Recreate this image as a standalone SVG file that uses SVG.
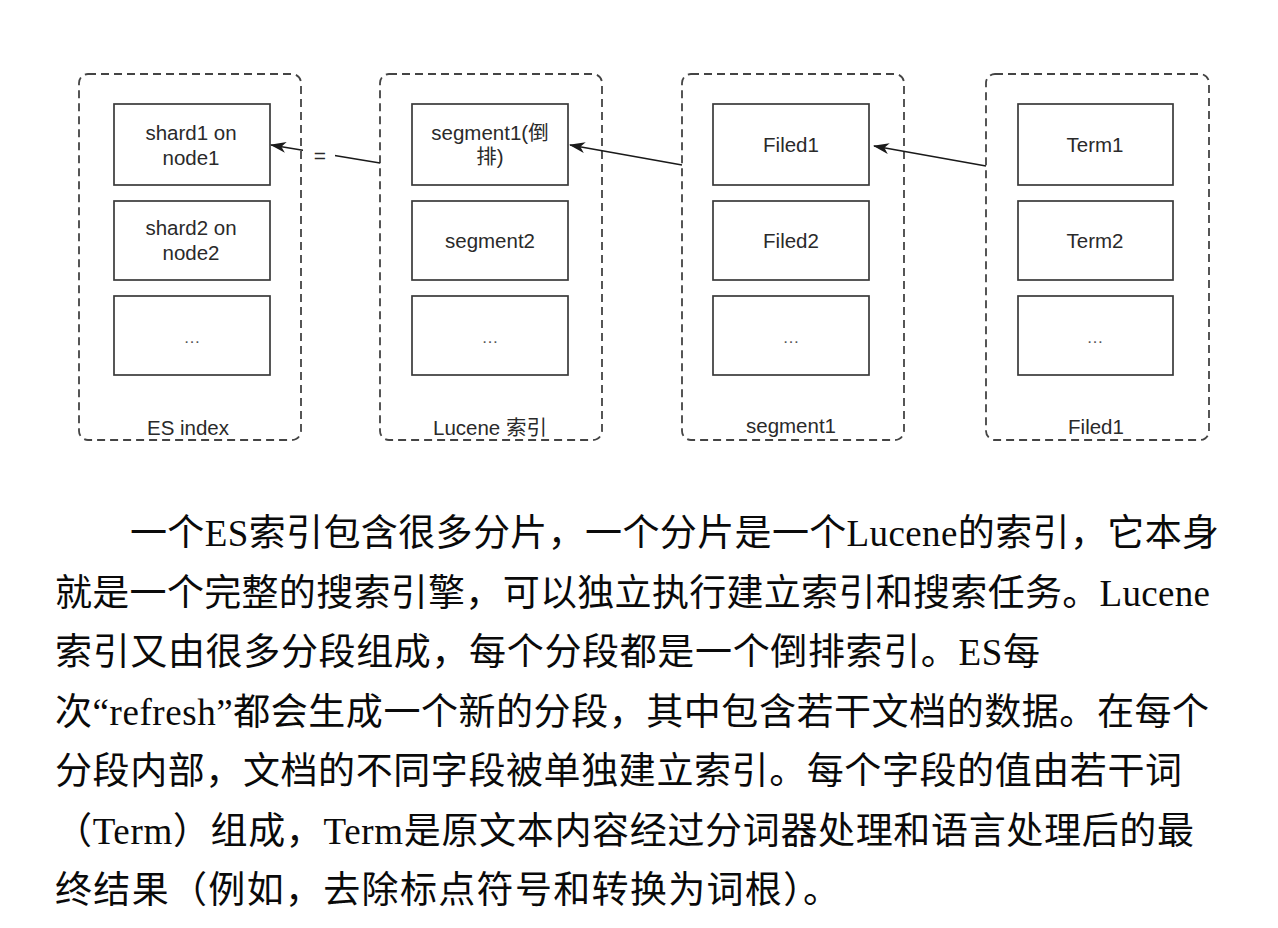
<svg xmlns="http://www.w3.org/2000/svg" width="1278" height="928" viewBox="0 0 1278 928">
<style>
.cont{fill:none;stroke:#444;stroke-width:1.8;stroke-dasharray:8 5}
.box{fill:#fff;stroke:#3a3a3a;stroke-width:1.7}
.lbl{font-family:"Liberation Sans",Arial,"Noto Sans CJK SC",sans-serif;font-size:20.5px;fill:#2a2a2a;text-anchor:middle}
.dots{font-family:"Liberation Sans",Arial,sans-serif;font-size:17px;fill:#555;text-anchor:middle}
.conn{fill:none;stroke:#1a1a1a;stroke-width:1.7}
.para{font-family:"Liberation Serif","Noto Sans CJK SC",serif;font-size:37px;fill:#0a0a0a}
</style>
<defs>
<marker id="arr" viewBox="0 0 16 12" refX="15" refY="6" markerWidth="16" markerHeight="12" markerUnits="userSpaceOnUse" orient="auto">
<path d="M0,0.5 L16,6 L0,11.5 L4.5,6 Z" fill="#1a1a1a"/>
</marker>
</defs>
<rect width="1278" height="928" fill="#fff"/>

<g id="es-index">
<rect class="cont" x="79" y="74" width="222" height="366" rx="9"/>
<text class="lbl" x="188" y="435">ES index</text>
</g>
<g id="shard1">
<rect class="box" x="114" y="104" width="156" height="81"/>
<text class="lbl" x="191" y="140">shard1 on</text>
<text class="lbl" x="191" y="165">node1</text>
</g>
<g id="shard2">
<rect class="box" x="114" y="201" width="156" height="79"/>
<text class="lbl" x="191" y="235">shard2 on</text>
<text class="lbl" x="191" y="260">node2</text>
</g>
<g id="shard-more">
<rect class="box" x="114" y="296" width="156" height="79"/>
<text class="dots" x="192" y="343">…</text>
</g>

<g id="lucene-index">
<rect class="cont" x="380" y="74" width="222" height="366" rx="9"/>
<text class="lbl" x="490" y="435">Lucene 索引</text>
</g>
<g id="segment1">
<rect class="box" x="412" y="104" width="156" height="81"/>
<text class="lbl" x="490" y="140">segment1(倒</text>
<text class="lbl" x="490" y="164">排)</text>
</g>
<g id="segment2">
<rect class="box" x="412" y="201" width="156" height="79"/>
<text class="lbl" x="490" y="248">segment2</text>
</g>
<g id="segment-more">
<rect class="box" x="412" y="296" width="156" height="79"/>
<text class="dots" x="490" y="343">…</text>
</g>

<g id="segment1-detail">
<rect class="cont" x="682" y="74" width="222" height="366" rx="9"/>
<text class="lbl" x="791" y="433">segment1</text>
</g>
<g id="filed1">
<rect class="box" x="713" y="104" width="156" height="81"/>
<text class="lbl" x="791" y="152">Filed1</text>
</g>
<g id="filed2">
<rect class="box" x="713" y="201" width="156" height="79"/>
<text class="lbl" x="791" y="248">Filed2</text>
</g>
<g id="filed-more">
<rect class="box" x="713" y="296" width="156" height="79"/>
<text class="dots" x="791" y="343">…</text>
</g>

<g id="filed1-detail">
<rect class="cont" x="986" y="74" width="223" height="366" rx="9"/>
<text class="lbl" x="1096" y="434">Filed1</text>
</g>
<g id="term1">
<rect class="box" x="1018" y="104" width="155" height="81"/>
<text class="lbl" x="1095" y="152">Term1</text>
</g>
<g id="term2">
<rect class="box" x="1018" y="201" width="155" height="79"/>
<text class="lbl" x="1095" y="248">Term2</text>
</g>
<g id="term-more">
<rect class="box" x="1018" y="296" width="155" height="79"/>
<text class="dots" x="1095" y="343">…</text>
</g>

<g id="connectors">
<line class="conn" x1="380" y1="163" x2="271" y2="145" marker-end="url(#arr)"/>
<rect x="303" y="146" width="32" height="18" fill="#fff"/>
<text class="lbl" x="320" y="163" style="font-size:21px">=</text>
<line class="conn" x1="682" y1="165" x2="570" y2="145" marker-end="url(#arr)"/>
<line class="conn" x1="986" y1="166" x2="874" y2="146" marker-end="url(#arr)"/>
</g>

<g id="paragraph">
<text class="para" x="130" y="546" textLength="1089" lengthAdjust="spacing">一个ES索引包含很多分片，一个分片是一个Lucene的索引，它本身</text>
<text class="para" x="55" y="605.5" textLength="1155" lengthAdjust="spacing">就是一个完整的搜索引擎，可以独立执行建立索引和搜索任务。Lucene</text>
<text class="para" x="55" y="665" textLength="985" lengthAdjust="spacing">索引又由很多分段组成，每个分段都是一个倒排索引。ES每</text>
<text class="para" x="55" y="724.5" textLength="1154" lengthAdjust="spacing">次“refresh”都会生成一个新的分段，其中包含若干文档的数据。在每个</text>
<text class="para" x="55" y="784" textLength="1127" lengthAdjust="spacing">分段内部，文档的不同字段被单独建立索引。每个字段的值由若干词</text>
<text class="para" x="55" y="843.5" textLength="1139" lengthAdjust="spacing">（Term）组成，Term是原文本内容经过分词器处理和语言处理后的最</text>
<text class="para" x="55" y="903" textLength="785" lengthAdjust="spacing">终结果（例如，去除标点符号和转换为词根）。</text>
</g>
</svg>
